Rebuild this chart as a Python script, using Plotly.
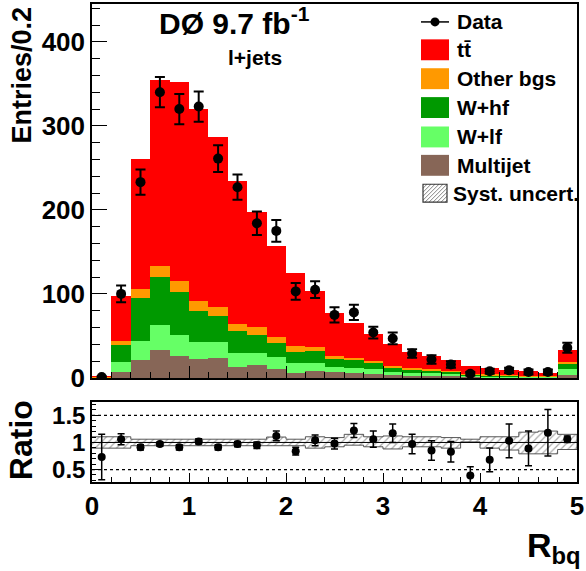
import plotly.graph_objects as go

# R_bq histogram, 25 bins of width 0.2 between 0 and 5
bin_width = 0.2
bin_centers = [round(bin_width * (i + 0.5), 2) for i in range(25)]

multijet = [0.3, 7.3, 21.6, 33.0, 26.7, 22.0, 24.3, 12.8, 15.2, 10.9, 5.7, 7.7, 6.5,
            5.7, 4.9, 3.0, 1.8, 2.6, 1.8, 1.2, 1.0, 0.8, 0.6, 0.5, 3.0]
w_lf = [0.3, 11.1, 22.9, 30.5, 24.9, 20.5, 19.0, 17.4, 14.7, 14.6, 11.9, 9.9, 7.1,
        6.4, 5.6, 3.9, 3.9, 3.1, 2.4, 1.8, 1.2, 1.0, 0.9, 0.7, 7.1]
w_hf = [0.4, 21.3, 50.5, 56.9, 50.6, 37.5, 30.7, 26.1, 21.7, 16.6, 13.8, 14.2, 9.1,
        8.7, 6.7, 5.2, 4.0, 3.6, 3.1, 1.4, 1.2, 0.8, 0.7, 0.6, 7.1]
other_bgs = [0.3, 4.8, 11.0, 13.4, 12.6, 12.0, 10.8, 8.0, 8.7, 7.1, 6.3, 5.6, 3.2,
             2.7, 2.4, 1.9, 1.6, 1.6, 1.2, 0.6, 0.7, 0.4, 0.4, 0.3, 1.6]
ttbar = [0.7, 52.5, 154.0, 220.2, 237.2, 228.0, 202.2, 169.7, 137.2, 107.8, 87.3, 65.6, 51.1,
         41.5, 32.8, 26.0, 19.3, 15.8, 12.3, 9.8, 7.9, 6.7, 5.1, 3.6, 15.0]

data = [1, 100, 233, 340, 320, 323, 261, 227, 184, 175, 103, 105, 75,
        78, 54, 47, 29, 22, 16, 5, 8, 9, 7, 7, 36]
data_err = [1, 10, 15, 18, 18, 18, 16, 15, 14, 13, 10, 10, 9,
            9, 7, 7, 5, 5, 4, 2, 3, 3, 3, 3, 6]

ratio = [0.73, 1.06, 0.91, 0.97, 0.91, 1.02, 0.91, 0.97, 0.95, 1.12, 0.84, 1.04, 0.98,
         1.22, 1.06, 1.17, 0.97, 0.85, 0.83, 0.39, 0.68, 1.03, 0.89, 1.18, 1.06]
ratio_err = [0.42, 0.10, 0.05, 0.04, 0.05, 0.05, 0.05, 0.05, 0.06, 0.09, 0.07, 0.10, 0.10,
             0.13, 0.15, 0.17, 0.18, 0.18, 0.19, 0.16, 0.22, 0.31, 0.32, 0.43, 0.06]

syst_up = [1.105, 1.105, 1.06, 1.06, 1.06, 1.06, 1.06, 1.06, 1.06, 1.10, 1.06, 1.105, 1.09,
           1.15, 1.105, 1.12, 1.105, 1.105, 1.09, 1.06, 1.105, 1.105, 1.19, 1.21, 1.15]
syst_dn = [0.895, 0.895, 0.94, 0.94, 0.94, 0.94, 0.94, 0.94, 0.94, 0.95, 0.94, 0.895, 0.92,
           0.95, 0.92, 0.88, 0.92, 0.92, 0.895, 1.01, 0.895, 0.86, 0.79, 0.79, 0.87]

components = [
    ("Multijet", multijet, "#876657"),
    ("W+lf", w_lf, "#66FF66"),
    ("W+hf", w_hf, "#009900"),
    ("Other bgs", other_bgs, "#FF9900"),
    ("tt\u0304", ttbar, "#FF0000"),
]

FONT = "Liberation Sans, Arial, sans-serif"
W, H = 586, 571
L, R, T, B = 92, 9, 2, 89
PW, PH = W - L - R, H - T - B


def px(x):
    return (x - L) / PW


def py(y):
    return (H - B - y) / PH


fig = go.Figure()

for name, vals, col in components:
    fig.add_trace(go.Bar(x=bin_centers, y=vals, width=bin_width, marker_color=col,
                         marker_line_width=0, name=name, showlegend=False,
                         xaxis="x", yaxis="y"))

fig.add_trace(go.Scatter(x=bin_centers, y=data, mode="markers",
                         marker=dict(color="black", size=10),
                         error_y=dict(type="data", array=data_err, color="black",
                                      thickness=2, width=5),
                         showlegend=False, xaxis="x", yaxis="y"))

# systematic band as a hatched step polygon
bx, by = [], []
for c, u in zip(bin_centers, syst_up):
    bx += [c - bin_width / 2, c + bin_width / 2]
    by += [u, u]
for c, d in zip(reversed(bin_centers), reversed(syst_dn)):
    bx += [c + bin_width / 2, c - bin_width / 2]
    by += [d, d]
fig.add_trace(go.Scatter(x=bx, y=by, mode="lines", fill="toself",
                         fillcolor="rgba(0,0,0,0)",
                         fillpattern=dict(shape="/", fgcolor="#555555", bgcolor="white",
                                          size=5, solidity=0.25),
                         line=dict(color="#444444", width=0.9),
                         showlegend=False, xaxis="x2", yaxis="y2"))

fig.add_trace(go.Scatter(x=bin_centers, y=ratio, mode="markers",
                         marker=dict(color="black", size=8),
                         error_y=dict(type="data", array=ratio_err, color="black",
                                      thickness=1.5, width=3.5),
                         showlegend=False, xaxis="x2", yaxis="y2"))

shapes = []
for lvl, dash in [(1.5, "dot"), (0.5, "dot"), (1.0, "solid")]:
    shapes.append(dict(type="line", xref="x2", yref="y2", x0=0, x1=5, y0=lvl, y1=lvl,
                       line=dict(color="black", width=1.2 if dash == "dot" else 1, dash=dash),
                       layer="above" if dash == "solid" else "below"))

# legend, drawn by hand in ROOT style
annotations = []
leg_rows = [("Data", None, 20), ("tt\u0304", "#FF0000", 48), ("Other bgs", "#FF9900", 77),
            ("W+hf", "#009900", 106), ("W+lf", "#66FF66", 135.5), ("Multijet", "#876657", 164),
            ("Syst. uncert.", "hatch", 192)]
for label, col, yc in leg_rows:
    tx = 455
    if col is None:
        shapes.append(dict(type="line", xref="paper", yref="paper", x0=px(421), x1=px(449),
                           y0=py(yc), y1=py(yc), line=dict(color="black", width=1.5)))
        shapes.append(dict(type="circle", xref="paper", yref="paper", fillcolor="black",
                           line=dict(color="black", width=0),
                           x0=px(435 - 4.5), x1=px(435 + 4.5), y0=py(yc - 4.5), y1=py(yc + 4.5)))
    elif col == "hatch":
        x0, x1, y0, y1 = 423, 447, yc - 9, yc + 9
        k = x0 + y0
        while k < x1 + y1:
            xs, xe = max(x0, k - y1), min(x1, k - y0)
            if xe > xs:
                shapes.append(dict(type="line", xref="paper", yref="paper",
                                   x0=px(xs), y0=py(k - xs), x1=px(xe), y1=py(k - xe),
                                   line=dict(color="#666666", width=0.8)))
            k += 4
        shapes.append(dict(type="rect", xref="paper", yref="paper", x0=px(x0), x1=px(x1),
                           y0=py(y0), y1=py(y1), line=dict(color="#333333", width=1.2)))
        tx = 451
    else:
        shapes.append(dict(type="rect", xref="paper", yref="paper", fillcolor=col,
                           line=dict(width=0), x0=px(421), x1=px(449),
                           y0=py(yc - 10.5), y1=py(yc + 10.5)))
    annotations.append(dict(text=label, xref="paper", yref="paper", x=px(tx), y=py(yc),
                            xanchor="left", yanchor="middle", showarrow=False,
                            font=dict(family=FONT, size=21, color="black", weight="bold")))

annotations += [
    dict(text="DØ 9.7 fb<sup>-1</sup>", xref="paper", yref="paper", x=px(157), y=py(40),
         xanchor="left", yanchor="bottom", showarrow=False,
         font=dict(family=FONT, size=30, color="black", weight="bold")),
    dict(text="l+jets", xref="paper", yref="paper", x=px(255), y=py(56),
         xanchor="center", yanchor="middle", showarrow=False,
         font=dict(family=FONT, size=21, color="black", weight="bold")),
    dict(text="Entries/0.2", xref="paper", yref="paper", x=px(22), y=py(3),
         xanchor="center", yanchor="top", textangle=-90, showarrow=False,
         font=dict(family=FONT, size=27, color="black", weight="bold")),
    dict(text="Ratio", xref="paper", yref="paper", x=px(21), y=py(440),
         xanchor="center", yanchor="middle", textangle=-90, showarrow=False,
         font=dict(family=FONT, size=32, color="black", weight="bold")),
    dict(text="R<sub>bq</sub>", xref="paper", yref="paper", x=px(583), y=py(571),
         xanchor="right", yanchor="bottom", showarrow=False,
         font=dict(family=FONT, size=34, color="black", weight="bold")),
]

tickfont = dict(family=FONT, size=26, color="black", weight="bold")
axis_common = dict(showline=True, linecolor="black", linewidth=1.5, mirror=True,
                   showgrid=False, zeroline=False, ticks="inside", tickcolor="black",
                   tickwidth=1.2)

main_bottom = py(377.5)
ratio_top = py(401.5)

fig.update_layout(
    width=W, height=H,
    margin=dict(l=L, r=R, t=T, b=B),
    paper_bgcolor="white", plot_bgcolor="white",
    barmode="stack", bargap=0,
    showlegend=False,
    xaxis=dict(axis_common, domain=[0, 1], anchor="y", range=[0, 5], dtick=1, ticklen=12,
               showticklabels=False, matches="x2",
               minor=dict(dtick=0.2, ticks="inside", ticklen=6, tickcolor="black")),
    yaxis=dict(axis_common, domain=[main_bottom, 1], anchor="x", range=[0, 445], dtick=100,
               ticklen=15, tickfont=tickfont,
               minor=dict(dtick=20, ticks="inside", ticklen=8, tickcolor="black")),
    xaxis2=dict(axis_common, domain=[0, 1], anchor="y2", range=[0, 5], dtick=1, ticklen=9,
                tickfont=tickfont,
                minor=dict(dtick=0.2, ticks="inside", ticklen=5, tickcolor="black")),
    yaxis2=dict(axis_common, domain=[0, ratio_top], anchor="x2", range=[0.27, 1.75],
                tick0=0, dtick=0.5, ticklen=8, tickfont=dict(tickfont, size=24),
                minor=dict(dtick=0.1, ticks="inside", ticklen=4, tickcolor="black")),
    shapes=shapes,
    annotations=annotations,
)

# the page's default body margin would shift the fixed-size figure
fig.write_html("out.html", config={"displayModeBar": False},
               post_script="document.body.style.margin='0px';")
